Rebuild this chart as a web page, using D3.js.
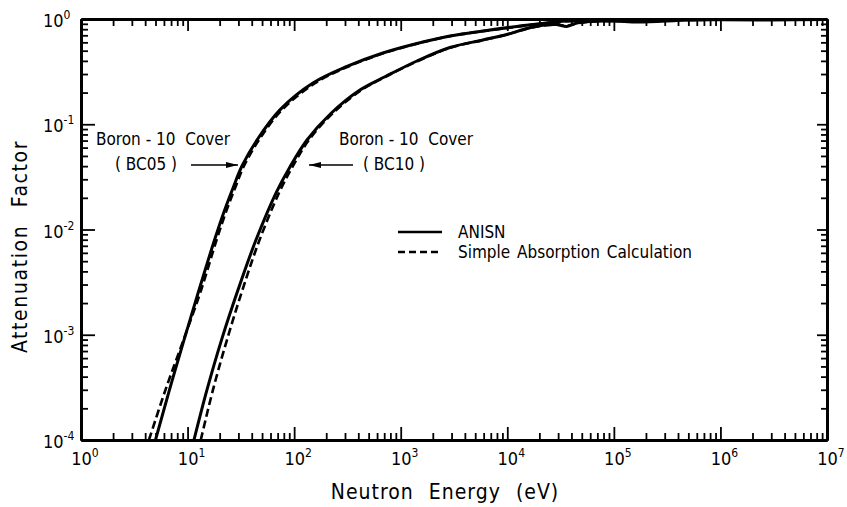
<!DOCTYPE html>
<html>
<head>
<meta charset="utf-8">
<script src="https://cdn.jsdelivr.net/npm/d3@7"></script>
<style>
body { margin: 0; background: #fff; }
svg { font-family: "Liberation Sans Narrow", "DejaVu Sans Condensed", "Liberation Sans", sans-serif; }
.axis path.domain { stroke: #000; stroke-width: 3; }
.axis line { stroke: #000; stroke-width: 1.8; }
.curve { fill: none; stroke: #000; stroke-width: 3; stroke-linejoin: round; }
.dashed { stroke-width: 2.6; stroke-dasharray: 8,4; }
</style>
</head>
<body>
<script>
// neutron energy (eV) and attenuation factor
var bc05AnisnE = [5.0, 6.76, 9.25, 12.8, 17.9, 21.95, 26.7, 32.4, 44.8, 73.6, 150, 313, 680, 1420, 2900, 5900, 12300, 19000, 36000, 60000, 100000, 200000, 500000, 1e6, 3e6, 1e7];
var bc05AnisnA = [1.0e-4, 2.99e-4, 8.9e-4, 2.66e-3, 7.94e-3, 0.01466, 0.0248, 0.0401, 0.0709, 0.137, 0.246, 0.354, 0.475, 0.585, 0.689, 0.769, 0.849, 0.896, 0.957, 0.97, 0.965, 0.98, 0.985, 0.99, 0.99, 0.99];

var bc05SimpleE = [4.34, 6.2, 9.15, 13.4, 18.7, 22.9, 27.9, 33.8, 46.8, 76.9, 157, 323, 696, 1450, 2958, 5900, 12300, 19000, 36000, 60000, 100000, 1e6, 1e7];
var bc05SimpleA = [1.0e-4, 2.99e-4, 8.9e-4, 2.66e-3, 7.94e-3, 0.01466, 0.0248, 0.0401, 0.0709, 0.137, 0.246, 0.354, 0.475, 0.585, 0.689, 0.765, 0.845, 0.893, 0.955, 0.97, 0.97, 0.99, 0.99];

var bc10AnisnE = [11.48, 15.2, 20.8, 29.7, 43.8, 67.5, 91.3, 132, 221, 414, 719, 1419, 2897, 5905, 9910, 15270, 22540, 29200, 36200, 45000, 59600, 100000, 170000, 500000, 1e6, 3e6, 1e7];
var bc10AnisnA = [1.0e-4, 2.99e-4, 8.9e-4, 2.66e-3, 7.94e-3, 0.0222, 0.0393, 0.0709, 0.1265, 0.2115, 0.284, 0.399, 0.536, 0.632, 0.712, 0.812, 0.877, 0.887, 0.849, 0.916, 0.947, 0.955, 0.935, 0.98, 0.985, 0.98, 0.99];

var bc10SimpleE = [13.3, 17.3, 23.4, 32.7, 47.3, 72.0, 96.4, 137.6, 228.7, 428, 726, 1450, 2958, 5900, 9900, 15000, 22000, 29000, 36000, 45000, 60000, 100000, 1e6, 1e7];
var bc10SimpleA = [1.0e-4, 2.99e-4, 8.9e-4, 2.66e-3, 7.94e-3, 0.0222, 0.0393, 0.0709, 0.1265, 0.2115, 0.284, 0.399, 0.536, 0.63, 0.71, 0.805, 0.87, 0.885, 0.86, 0.91, 0.945, 0.96, 0.985, 0.99];

var xMajor = [1, 10, 100, 1e3, 1e4, 1e5, 1e6, 1e7];
var xExponents = ["0", "1", "2", "3", "4", "5", "6", "7"];
var yMajor = [1e-4, 1e-3, 1e-2, 1e-1, 1];
var yExponents = ["-4", "-3", "-2", "-1", "0"];

var legendLabels = ["ANISN", "Simple Absorption Calculation"];
var coverLabels = [["Boron - 10  Cover", "( BC05 )"], ["Boron - 10  Cover", "( BC10 )"]];

var margin = {top: 19, right: 20, bottom: 67, left: 81},
    width = 847 - margin.left - margin.right,
    height = 507 - margin.top - margin.bottom;

var x = d3.scaleLog().domain([1, 1e7]).range([0, width]);
var y = d3.scaleLog().domain([1e-4, 1]).range([height, 0]);

function minorTicks(major) {
  var out = [];
  major.slice(0, -1).forEach(function(m) {
    for (var k = 2; k < 10; k++) out.push(m * k);
  });
  return out;
}

var svg = d3.select("body").append("svg")
    .attr("width", width + margin.left + margin.right)
    .attr("height", height + margin.top + margin.bottom)
  .append("g")
    .attr("transform", "translate(" + margin.left + "," + margin.top + ")");

var defs = svg.append("defs");
defs.append("clipPath").attr("id", "clip")
  .append("rect").attr("x", 0).attr("y", -3).attr("width", width).attr("height", height + 3);
defs.append("marker")
    .attr("id", "head")
    .attr("viewBox", "0 0 12 6")
    .attr("refX", 12).attr("refY", 3)
    .attr("markerWidth", 12).attr("markerHeight", 6)
    .attr("markerUnits", "userSpaceOnUse")
    .attr("orient", "auto")
  .append("path")
    .attr("d", "M0,0L12,3L0,6z")
    .attr("fill", "#000");

// minor and major ticks on all four sides, pointing inward
function addAxis(axis, transform) {
  svg.append("g").attr("class", "axis").attr("transform", transform || null).call(axis);
}
addAxis(d3.axisBottom(x).tickValues(minorTicks(xMajor)).tickSize(-7).tickSizeOuter(0).tickFormat(""), "translate(0," + height + ")");
addAxis(d3.axisBottom(x).tickValues(xMajor).tickSize(-13).tickSizeOuter(0).tickFormat(""), "translate(0," + height + ")");
addAxis(d3.axisTop(x).tickValues(minorTicks(xMajor)).tickSize(-7).tickSizeOuter(0).tickFormat(""));
addAxis(d3.axisTop(x).tickValues(xMajor).tickSize(-12).tickSizeOuter(0).tickFormat(""));
addAxis(d3.axisLeft(y).tickValues(minorTicks(yMajor)).tickSize(-7).tickSizeOuter(0).tickFormat(""));
addAxis(d3.axisLeft(y).tickValues(yMajor).tickSize(-14).tickSizeOuter(0).tickFormat(""));
addAxis(d3.axisRight(y).tickValues(minorTicks(yMajor)).tickSize(-6).tickSizeOuter(0).tickFormat(""), "translate(" + width + ",0)");
addAxis(d3.axisRight(y).tickValues(yMajor).tickSize(-10).tickSizeOuter(0).tickFormat(""), "translate(" + width + ",0)");

// tick labels as 10 with a raised exponent
var xl = svg.selectAll(".xlabel")
    .data(xMajor)
  .enter().append("text")
    .attr("class", "xlabel")
    .attr("x", function(d) { return x(d) + 4; })
    .attr("y", height + 25)
    .style("text-anchor", "middle")
    .style("font-size", "18px");
xl.append("tspan").text("10");
xl.append("tspan")
    .attr("dy", -8)
    .style("font-size", "12px")
    .text(function(d, i) { return xExponents[i]; });

var yl = svg.selectAll(".ylabel")
    .data(yMajor)
  .enter().append("text")
    .attr("class", "ylabel")
    .attr("x", -38)
    .attr("y", function(d) { return y(d) + 8; })
    .style("font-size", "18px");
yl.append("tspan").text("10");
yl.append("tspan")
    .attr("dy", -8)
    .style("font-size", "12px")
    .text(function(d, i) { return yExponents[i]; });

svg.append("text")
    .attr("x", width / 2 - 9)
    .attr("y", height + 59)
    .style("text-anchor", "middle")
    .style("font-size", "21px")
    .style("word-spacing", "8px")
    .style("letter-spacing", "1px")
    .text("Neutron Energy (eV)");

svg.append("text")
    .attr("transform", "translate(" + (27 - margin.left) + "," + (height / 2 + 17) + ") rotate(-90)")
    .style("text-anchor", "middle")
    .style("font-size", "21px")
    .style("word-spacing", "10px")
    .style("letter-spacing", "1.6px")
    .text("Attenuation Factor");

var line = d3.line()
    .x(function(d) { return x(d[0]); })
    .y(function(d) { return y(d[1]); })
    .curve(d3.curveCatmullRom.alpha(0.5));

function zipSeries(e, a) { return e.map(function(v, i) { return [v, a[i]]; }); }

var plot = svg.append("g").attr("clip-path", "url(#clip)");
plot.append("path").attr("class", "curve").attr("d", line(zipSeries(bc05AnisnE, bc05AnisnA)));
plot.append("path").attr("class", "curve").attr("d", line(zipSeries(bc10AnisnE, bc10AnisnA)));
plot.append("path").attr("class", "curve dashed").attr("d", line(zipSeries(bc05SimpleE, bc05SimpleA)));
plot.append("path").attr("class", "curve dashed").attr("d", line(zipSeries(bc10SimpleE, bc10SimpleA)));

// cover annotations with arrows
var notes = [
  {tx: 163 - margin.left, x1: 191, x2: 238},
  {tx: 406 - margin.left, x1: 353, x2: 309}
];
notes.forEach(function(n, i) {
  svg.append("text")
      .attr("x", n.tx).attr("y", 145 - margin.top)
      .style("text-anchor", "middle")
      .style("font-size", "17px")
      .style("white-space", "pre")
      .text(coverLabels[i][0]);
  svg.append("text")
      .attr("x", n.tx - (i ? 12 : 17)).attr("y", 170 - margin.top)
      .style("text-anchor", "middle")
      .style("font-size", "17px")
      .style("white-space", "pre")
      .text(coverLabels[i][1]);
  svg.append("line")
      .attr("x1", n.x1 - margin.left).attr("x2", n.x2 - margin.left)
      .attr("y1", 165 - margin.top).attr("y2", 165 - margin.top)
      .attr("stroke", "#000").attr("stroke-width", 1.5)
      .attr("marker-end", "url(#head)");
});

// legend
var legend = svg.selectAll(".legend")
    .data(legendLabels)
  .enter().append("g")
    .attr("class", "legend")
    .attr("transform", function(d, i) { return "translate(" + (398 - margin.left) + "," + (232 - margin.top + i * 20) + ")"; });

legend.append("line")
    .attr("x1", 0).attr("x2", 44)
    .attr("stroke", "#000")
    .attr("stroke-width", 2.5)
    .attr("stroke-dasharray", function(d, i) { return i ? "7,4" : null; });

legend.append("text")
    .attr("x", 60)
    .attr("y", 6)
    .style("font-size", "17px")
    .style("word-spacing", "2px")
    .text(function(d) { return d; });
</script>
</body>
</html>
